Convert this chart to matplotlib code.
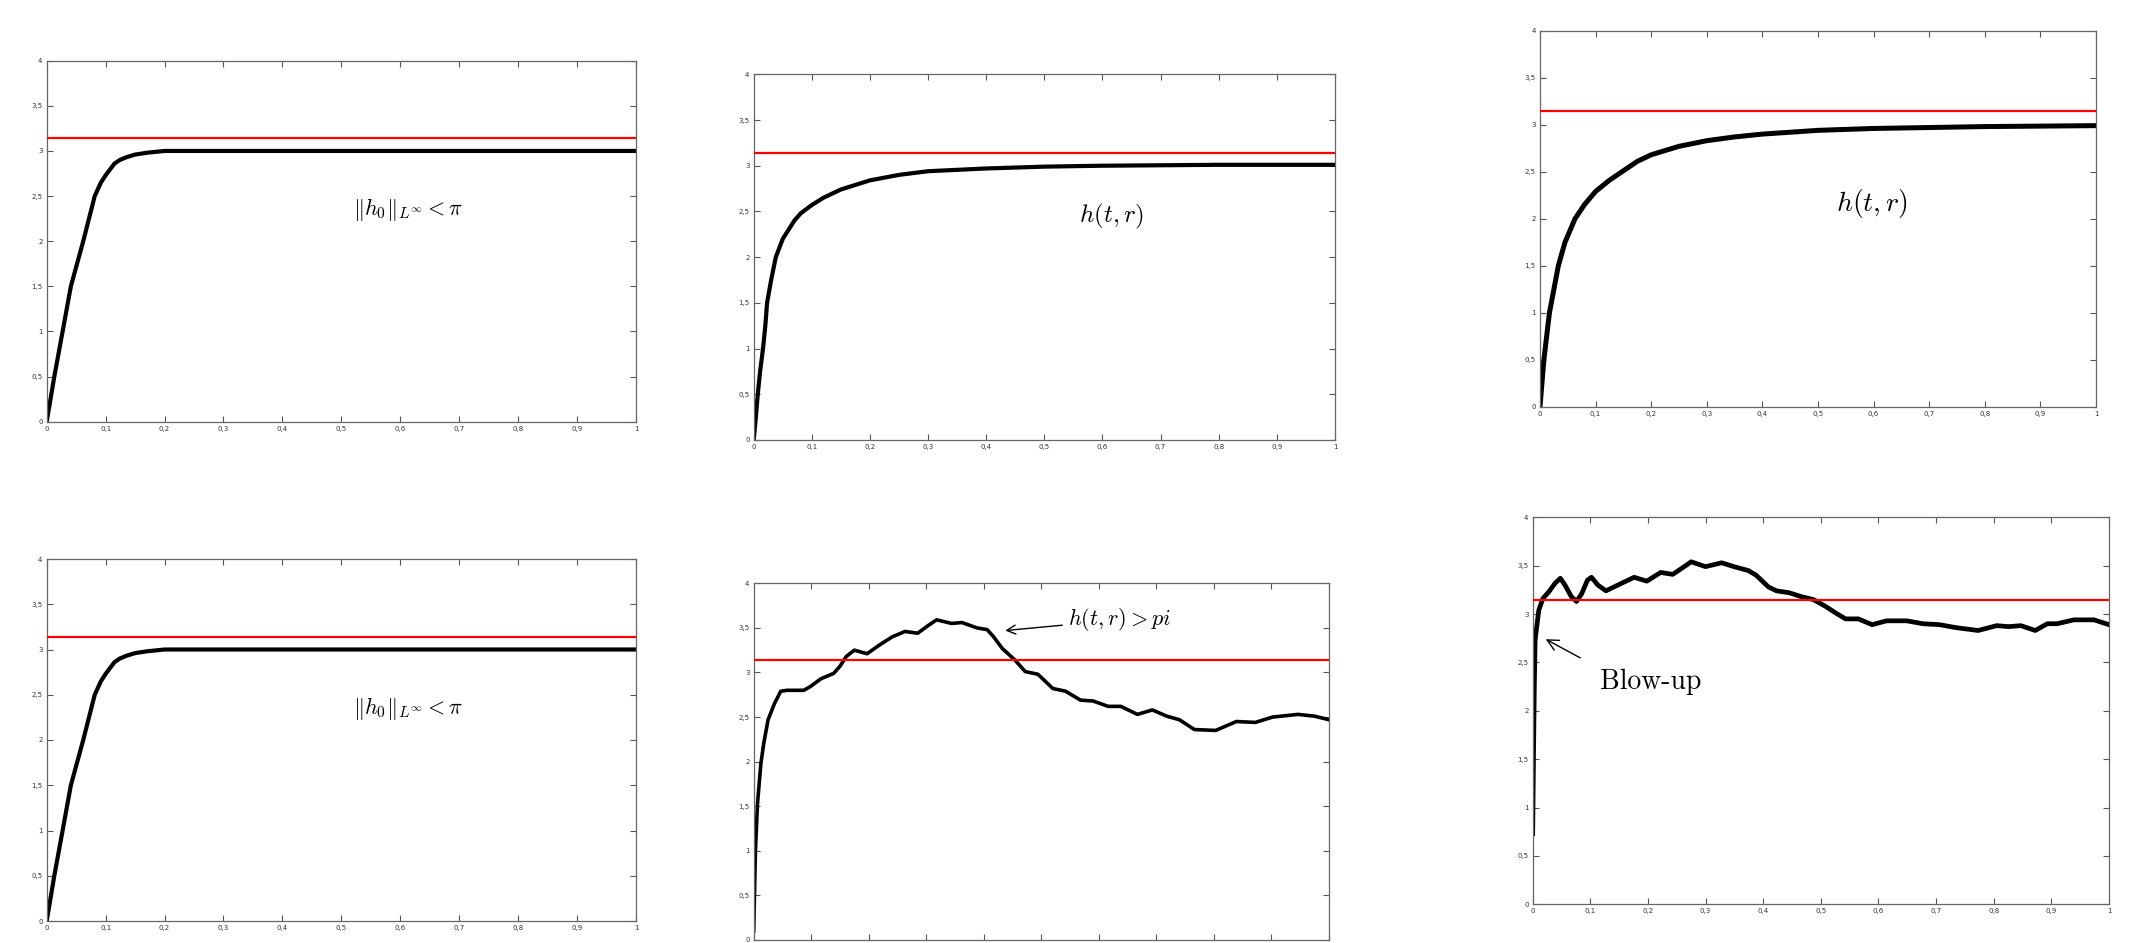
import numpy as np
import matplotlib
matplotlib.use('Agg')
import matplotlib.pyplot as plt

plt.rcParams['mathtext.fontset'] = 'cm'

# ---- data ----
pi_level = 3.1416

t_small = [0, 0.0129, 0.027, 0.041, 0.062, 0.0815, 0.092, 0.1, 0.108, 0.115, 0.124, 0.135,
           0.15, 0.17, 0.2, 0.25, 1.0]
h_small = [0, 0.5, 1.0, 1.5, 2.0, 2.5, 2.65, 2.73, 2.8, 2.86, 2.9, 2.93,
           2.96, 2.98, 3.0, 3.0, 3.0]

t_mid = [0, 0.003, 0.007, 0.011, 0.016, 0.02, 0.023, 0.03, 0.038, 0.05, 0.06, 0.07, 0.081,
         0.1, 0.12, 0.15, 0.2, 0.25, 0.3, 0.4, 0.5, 0.6, 0.8, 1.0]
h_mid = [0, 0.2, 0.5, 0.75, 1.0, 1.25, 1.5, 1.75, 2.0, 2.2, 2.3, 2.4, 2.48,
         2.57, 2.65, 2.74, 2.84, 2.9, 2.94, 2.97, 2.99, 3.0, 3.01, 3.01]

t_slow = [0, 0.007, 0.017, 0.025, 0.033, 0.045, 0.063, 0.08, 0.1, 0.125, 0.15, 0.175, 0.2,
          0.25, 0.3, 0.35, 0.4, 0.5, 0.6, 0.7, 0.8, 1.0]
h_slow = [0, 0.5, 1.0, 1.25, 1.5, 1.75, 2.0, 2.15, 2.29, 2.41, 2.51, 2.61, 2.68,
          2.77, 2.83, 2.87, 2.90, 2.94, 2.96, 2.97, 2.98, 2.99]

t_over = [0, 0.003, 0.0066, 0.0125, 0.0176, 0.025, 0.036, 0.047, 0.058, 0.087, 0.098, 0.117,
          0.139, 0.150, 0.161, 0.175, 0.197, 0.219, 0.241, 0.263, 0.285, 0.304, 0.318, 0.344,
          0.362, 0.388, 0.406, 0.417, 0.432, 0.454, 0.472, 0.494, 0.520, 0.542, 0.568, 0.590,
          0.616, 0.638, 0.667, 0.693, 0.718, 0.740, 0.766, 0.803, 0.839, 0.872, 0.902, 0.946,
          0.975, 1.0]
h_over = [0.1, 1.0, 1.53, 1.98, 2.21, 2.47, 2.65, 2.79, 2.80, 2.80, 2.84, 2.93,
          2.99, 3.07, 3.18, 3.25, 3.21, 3.31, 3.40, 3.46, 3.44, 3.53, 3.59, 3.55,
          3.56, 3.50, 3.48, 3.40, 3.27, 3.14, 3.01, 2.98, 2.82, 2.79, 2.69, 2.68,
          2.62, 2.62, 2.53, 2.58, 2.51, 2.47, 2.36, 2.35, 2.45, 2.44, 2.50, 2.53,
          2.51, 2.47]

t_blow = [0, 0.0014, 0.0028, 0.0042, 0.007, 0.0106, 0.0176, 0.028, 0.039, 0.048, 0.056, 0.067,
          0.076, 0.085, 0.095, 0.102, 0.113, 0.127, 0.148, 0.176, 0.198, 0.222, 0.243, 0.258,
          0.275, 0.300, 0.328, 0.349, 0.374, 0.388, 0.409, 0.423, 0.445, 0.466, 0.487, 0.508,
          0.526, 0.543, 0.565, 0.589, 0.614, 0.649, 0.677, 0.706, 0.734, 0.773, 0.805, 0.826,
          0.847, 0.872, 0.893, 0.910, 0.939, 0.974, 1.0]
h_blow = [0.73, 1.53, 2.25, 2.73, 2.87, 3.04, 3.16, 3.23, 3.32, 3.37, 3.30, 3.18,
          3.13, 3.21, 3.35, 3.38, 3.30, 3.24, 3.30, 3.38, 3.34, 3.43, 3.41, 3.47,
          3.54, 3.49, 3.53, 3.49, 3.45, 3.40, 3.28, 3.24, 3.22, 3.18, 3.15, 3.08,
          3.01, 2.95, 2.95, 2.89, 2.93, 2.93, 2.90, 2.89, 2.86, 2.83, 2.88, 2.87,
          2.88, 2.83, 2.90, 2.90, 2.94, 2.94, 2.89]

x_ticks = np.arange(0, 1.01, 0.1)
y_ticks = np.arange(0, 4.01, 0.5)
x_labels = ['0', '0,1', '0,2', '0,3', '0,4', '0,5', '0,6', '0,7', '0,8', '0,9', '1']
y_labels = ['0', '0,5', '1', '1,5', '2', '2,5', '3', '3,5', '4']

W, H = 2136, 943
fig = plt.figure(figsize=(W / 100, H / 100), dpi=100)
fig.patch.set_facecolor('white')


def panel(left, top, right, bottom, xlabels=True):
    # pixel box -> figure fraction
    ax = fig.add_axes([left / W, 1 - bottom / H, (right - left) / W, (bottom - top) / H])
    ax.set_xlim(0, 1)
    ax.set_ylim(0, 4)
    ax.set_xticks(x_ticks)
    ax.set_xticklabels(x_labels)
    ax.set_yticks(y_ticks)
    ax.set_yticklabels(y_labels)
    ax.tick_params(direction='in', length=4.5, width=0.8, color='#555555',
                   labelsize=5, labelcolor='#333333', pad=3,
                   top=True, right=True, labelbottom=xlabels)
    for s in ax.spines.values():
        s.set_color('#666666')
        s.set_linewidth(0.9)
    ax.axhline(pi_level, color='#ff0000', lw=1.6, zorder=3)
    return ax


ax1 = panel(46.7, 60.7, 636, 421.7)
ax1.plot(t_small, h_small, color='black', lw=3.0)
ax1.text(0.52, 2.35, r'$\|h_0\|_{L^\infty} < \pi$', fontsize=16, va='center')

ax2 = panel(753.7, 74.3, 1335, 440)
ax2.plot(t_mid, h_mid, color='black', lw=3.0)
ax2.text(0.559, 2.45, r'$h(t,r)$', fontsize=18, va='center')

ax3 = panel(1540, 30.7, 2096, 406.7)
ax3.plot(t_slow, h_slow, color='black', lw=3.6)
ax3.text(0.532, 2.16, r'$h(t,r)$', fontsize=20, va='center')

ax4 = panel(46.7, 559, 636, 921)
ax4.plot(t_small, h_small, color='black', lw=3.0)
ax4.text(0.52, 2.35, r'$\|h_0\|_{L^\infty} < \pi$', fontsize=16, va='center')

ax5 = panel(753.7, 583.3, 1329, 940, xlabels=False)
ax5.plot(t_over, h_over, color='black', lw=2.6)
ax5.annotate(r'$h(t,r) > pi$', xy=(0.437, 3.47), xytext=(0.546, 3.59),
             fontsize=16, va='center',
             arrowprops=dict(arrowstyle='->', color='black', lw=1.0,
                             shrinkA=2, shrinkB=0))

ax6 = panel(1532.7, 517.3, 2109, 904.3)
ax6.plot(t_blow, h_blow, color='black', lw=3.4)
ax6.annotate('Blow-up', xy=(0.0226, 2.74), xytext=(0.117, 2.30),
             fontsize=20, family='cmr10', va='center',
             arrowprops=dict(arrowstyle='->', color='black', lw=1.0,
                             shrinkA=14, shrinkB=0,
                             relpos=(0.0, 1.0)))

plt.savefig('out.png', dpi=100, facecolor='white')
